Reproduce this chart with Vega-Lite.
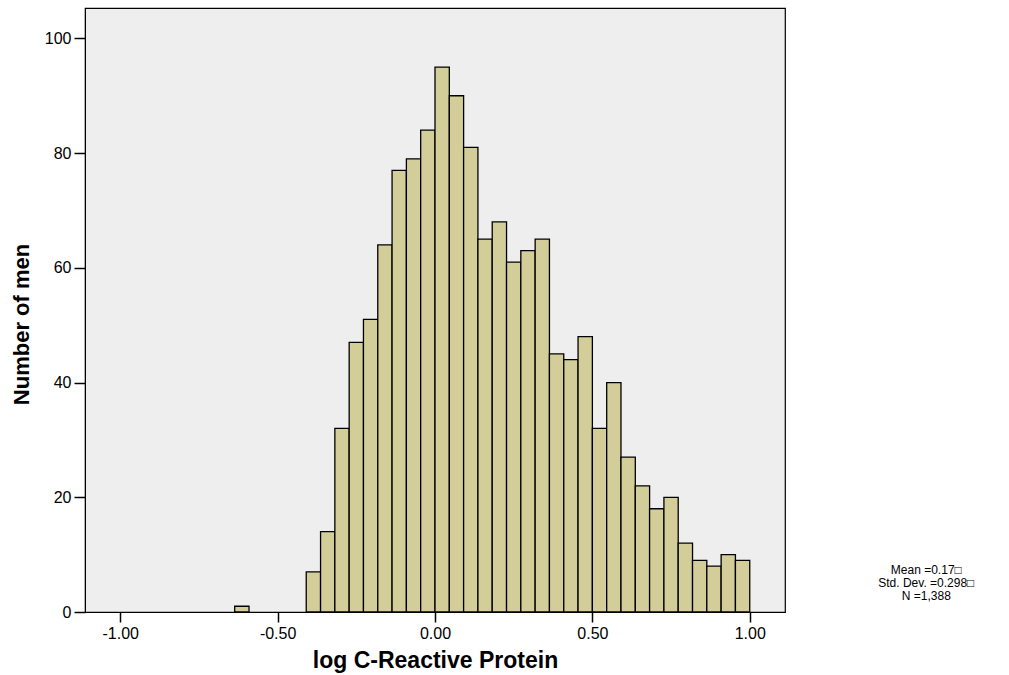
{
  "$schema": "https://vega.github.io/schema/vega-lite/v6.json",
  "width": 700,
  "height": 604,
  "autosize": {"type": "none"},
  "padding": {"left": 85, "top": 8, "right": 224, "bottom": 63},
  "background": "#ffffff",
  "config": {
    "font": "Liberation Sans",
    "view": {"fill": "#eeeeee", "stroke": "#000000", "strokeWidth": 1.2}
  },
  "datasets": {
    "bins": [
      {"bin_start": -0.6364, "bin_end": -0.5909, "count": 1},
      {"bin_start": -0.4091, "bin_end": -0.3636, "count": 7},
      {"bin_start": -0.3636, "bin_end": -0.3182, "count": 14},
      {"bin_start": -0.3182, "bin_end": -0.2727, "count": 32},
      {"bin_start": -0.2727, "bin_end": -0.2273, "count": 47},
      {"bin_start": -0.2273, "bin_end": -0.1818, "count": 51},
      {"bin_start": -0.1818, "bin_end": -0.1364, "count": 64},
      {"bin_start": -0.1364, "bin_end": -0.0909, "count": 77},
      {"bin_start": -0.0909, "bin_end": -0.0455, "count": 79},
      {"bin_start": -0.0455, "bin_end": 0.0, "count": 84},
      {"bin_start": 0.0, "bin_end": 0.0455, "count": 95},
      {"bin_start": 0.0455, "bin_end": 0.0909, "count": 90},
      {"bin_start": 0.0909, "bin_end": 0.1364, "count": 81},
      {"bin_start": 0.1364, "bin_end": 0.1818, "count": 65},
      {"bin_start": 0.1818, "bin_end": 0.2273, "count": 68},
      {"bin_start": 0.2273, "bin_end": 0.2727, "count": 61},
      {"bin_start": 0.2727, "bin_end": 0.3182, "count": 63},
      {"bin_start": 0.3182, "bin_end": 0.3636, "count": 65},
      {"bin_start": 0.3636, "bin_end": 0.4091, "count": 45},
      {"bin_start": 0.4091, "bin_end": 0.4545, "count": 44},
      {"bin_start": 0.4545, "bin_end": 0.5, "count": 48},
      {"bin_start": 0.5, "bin_end": 0.5455, "count": 32},
      {"bin_start": 0.5455, "bin_end": 0.5909, "count": 40},
      {"bin_start": 0.5909, "bin_end": 0.6364, "count": 27},
      {"bin_start": 0.6364, "bin_end": 0.6818, "count": 22},
      {"bin_start": 0.6818, "bin_end": 0.7273, "count": 18},
      {"bin_start": 0.7273, "bin_end": 0.7727, "count": 20},
      {"bin_start": 0.7727, "bin_end": 0.8182, "count": 12},
      {"bin_start": 0.8182, "bin_end": 0.8636, "count": 9},
      {"bin_start": 0.8636, "bin_end": 0.9091, "count": 8},
      {"bin_start": 0.9091, "bin_end": 0.9545, "count": 10},
      {"bin_start": 0.9545, "bin_end": 1.0, "count": 9}
    ],
    "stats": [
      {"stats": "Mean =0.17□\nStd. Dev. =0.298□\nN =1,388"}
    ]
  },
  "layer": [
    {
      "data": {"name": "bins"},
      "mark": {"type": "rect", "fill": "#d3ce99", "stroke": "#000000", "strokeWidth": 1.3},
      "encoding": {
        "x": {
          "field": "bin_start",
          "type": "quantitative",
          "scale": {"domain": [-1.112, 1.112], "nice": false, "zero": false},
          "axis": {
            "title": "log C-Reactive Protein",
            "values": [-1, -0.5, 0, 0.5, 1],
            "labelExpr": "replace(format(datum.value, '.2f'), '\u2212', '-')",
            "grid": false,
            "domainColor": "#000000",
            "tickColor": "#000000",
            "tickSize": 10,
            "tickWidth": 1.5,
            "labelColor": "#000000",
            "labelFontSize": 16,
            "labelPadding": 3,
            "titleColor": "#000000",
            "titleFontSize": 23,
            "titleFontWeight": "bold",
            "titleBaseline": "alphabetic",
            "titleY": 55
          }
        },
        "x2": {"field": "bin_end"},
        "y": {
          "field": "count",
          "type": "quantitative",
          "scale": {"domain": [0, 105.3], "nice": false},
          "axis": {
            "title": "Number of men",
            "values": [0, 20, 40, 60, 80, 100],
            "grid": false,
            "domainColor": "#000000",
            "tickColor": "#000000",
            "tickSize": 11,
            "tickWidth": 1.5,
            "labelColor": "#000000",
            "labelFontSize": 16,
            "labelPadding": 3,
            "titleColor": "#000000",
            "titleFontSize": 22,
            "titleFontWeight": "bold",
            "titleBaseline": "middle",
            "titleX": -64,
            "titleY": 316
          }
        },
        "y2": {"datum": 0}
      }
    },
    {
      "data": {"name": "stats"},
      "mark": {"type": "text", "lineBreak": "\n", "align": "center", "baseline": "alphabetic", "fontSize": 12, "lineHeight": 13, "color": "#000000"},
      "encoding": {
        "x": {"datum": 1.561, "type": "quantitative"},
        "y": {"datum": 6.71, "type": "quantitative"},
        "text": {"field": "stats", "type": "nominal"}
      }
    }
  ]
}
